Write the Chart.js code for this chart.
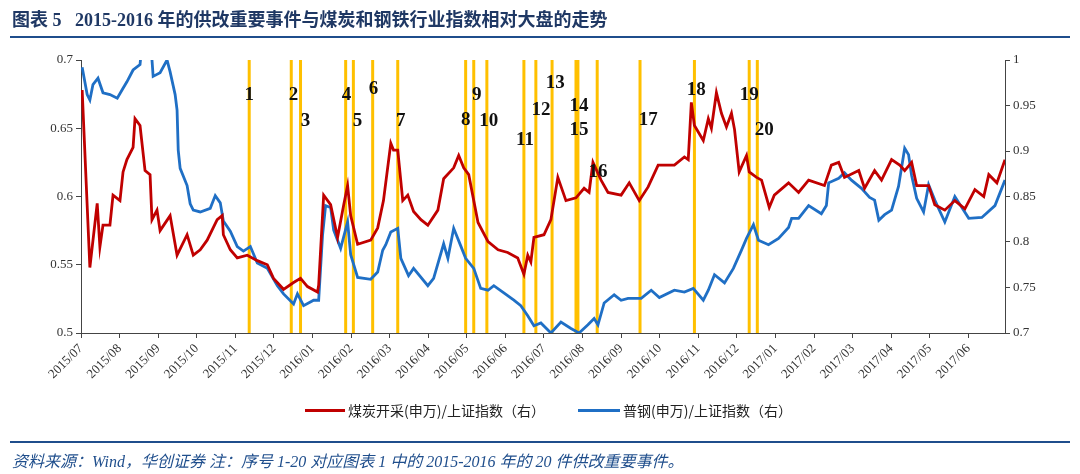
<!DOCTYPE html>
<html><head><meta charset="utf-8">
<script src="https://cdn.jsdelivr.net/npm/chart.js@4"></script>
<style>
body{margin:0;width:1080px;height:474px;background:#fff;position:relative;overflow:hidden;font-family:"Liberation Serif","Noto Sans CJK SC",serif}
#wrap{position:absolute;left:0;top:0;width:1080px;height:474px}
.t{position:absolute;white-space:nowrap}
</style></head><body>
<div id="wrap"><canvas id="c" width="1080" height="474"></canvas></div>
<div class="t" style="left:12px;top:5px;font-size:18px;font-weight:bold;color:#1f3864;font-family:'Liberation Serif','Noto Sans CJK SC'">图表 5&nbsp;&nbsp;&nbsp;2015-2016 年的供改重要事件与煤炭和钢铁行业指数相对大盘的走势</div>
<div style="position:absolute;left:10px;top:36px;width:1060px;height:2px;background:#1f4e8c"></div>
<div style="position:absolute;left:305px;top:409px;width:40px;height:3px;background:#c00000"></div>
<div class="t" style="left:348px;top:400px;font-size:14px;color:#222;font-family:'Noto Sans CJK SC'">煤炭开采(申万)/上证指数（右）</div>
<div style="position:absolute;left:578px;top:409px;width:42px;height:3px;background:#1f6fc5"></div>
<div class="t" style="left:623px;top:400px;font-size:14px;color:#222;font-family:'Noto Sans CJK SC'">普钢(申万)/上证指数（右）</div>
<div style="position:absolute;left:10px;top:441px;width:1060px;height:1.5px;background:#1f4e8c"></div>
<div class="t" style="left:12px;top:448px;font-size:16px;font-style:italic;color:#1f4e8c;font-family:'Liberation Serif','Noto Sans CJK SC'">资料来源：Wind，华创证券 注：序号 1-20 对应图表 1 中的 2015-2016 年的 20 件供改重要事件。</div>
<script>
const monthLabels=["2015/07","2015/08","2015/09","2015/10","2015/11","2015/12","2016/01","2016/02","2016/03","2016/04","2016/05","2016/06","2016/07","2016/08","2016/09","2016/10","2016/11","2016/12","2017/01","2017/02","2017/03","2017/04","2017/05","2017/06"];
// x values in months since 2015/07
const coalX=[0.03,0.23,0.42,0.49,0.57,0.75,0.83,1.01,1.09,1.19,1.35,1.40,1.53,1.66,1.79,1.84,1.97,2.05,2.31,2.49,2.75,2.91,3.09,3.27,3.53,3.66,3.69,3.87,4.05,4.31,4.57,4.83,4.99,5.25,5.51,5.69,5.87,6.13,6.16,6.29,6.47,6.65,6.81,6.91,6.99,7.17,7.51,7.69,7.84,8.03,8.10,8.21,8.34,8.47,8.62,8.81,8.99,9.25,9.40,9.66,9.79,9.92,10.05,10.29,10.55,10.81,11.06,11.32,11.48,11.58,11.66,11.74,12.00,12.18,12.36,12.57,12.83,13.04,13.17,13.27,13.48,13.66,14.00,14.21,14.47,14.70,14.96,15.38,15.64,15.74,15.82,15.90,16.13,16.26,16.34,16.47,16.60,16.73,16.86,16.94,17.06,17.25,17.32,17.51,17.64,17.84,17.97,18.34,18.60,18.86,19.27,19.45,19.64,19.79,20.16,20.31,20.57,20.75,21.01,21.22,21.35,21.53,21.66,21.97,22.13,22.39,22.65,22.91,23.17,23.40,23.53,23.74,23.95];
const coalY=[0.678,0.548,0.595,0.563,0.579,0.579,0.601,0.597,0.618,0.627,0.636,0.657,0.652,0.619,0.616,0.583,0.590,0.575,0.586,0.557,0.572,0.557,0.561,0.568,0.583,0.586,0.572,0.561,0.555,0.557,0.553,0.550,0.540,0.532,0.537,0.540,0.534,0.530,0.535,0.601,0.594,0.570,0.594,0.608,0.586,0.565,0.568,0.577,0.597,0.639,0.634,0.634,0.597,0.601,0.589,0.583,0.579,0.590,0.613,0.621,0.630,0.621,0.616,0.581,0.567,0.561,0.559,0.555,0.543,0.557,0.552,0.570,0.572,0.583,0.614,0.597,0.599,0.606,0.603,0.625,0.612,0.603,0.601,0.610,0.597,0.607,0.623,0.623,0.629,0.627,0.669,0.652,0.641,0.657,0.650,0.676,0.661,0.651,0.661,0.649,0.618,0.630,0.618,0.614,0.612,0.592,0.601,0.610,0.603,0.612,0.608,0.623,0.625,0.614,0.619,0.606,0.619,0.612,0.627,0.623,0.619,0.625,0.608,0.608,0.594,0.590,0.597,0.591,0.605,0.600,0.616,0.610,0.627];
const steelX=[0.03,0.16,0.23,0.31,0.44,0.57,0.75,0.94,1.09,1.19,1.35,1.53,1.61,1.79,1.87,2.05,2.23,2.31,2.44,2.49,2.52,2.57,2.75,2.83,2.91,3.09,3.35,3.48,3.61,3.69,3.87,4.05,4.21,4.39,4.57,4.83,5.09,5.25,5.51,5.61,5.77,6.03,6.16,6.26,6.34,6.47,6.55,6.73,6.91,6.99,7.17,7.51,7.69,7.82,7.90,8.03,8.21,8.29,8.49,8.62,8.99,9.14,9.40,9.51,9.66,9.84,9.97,10.18,10.36,10.55,10.70,10.96,11.22,11.40,11.58,11.74,11.92,12.18,12.44,12.70,12.91,13.14,13.30,13.40,13.56,13.82,14.00,14.18,14.52,14.78,14.99,15.38,15.64,15.87,16.13,16.26,16.42,16.68,16.91,17.12,17.25,17.43,17.56,17.82,18.08,18.34,18.42,18.60,18.86,19.19,19.32,19.38,19.64,19.79,19.97,20.23,20.44,20.57,20.68,20.83,21.01,21.19,21.35,21.45,21.53,21.66,21.84,21.97,22.13,22.39,22.65,23.01,23.35,23.69,23.95];
const steelY=[0.992,0.962,0.956,0.973,0.980,0.964,0.962,0.958,0.969,0.976,0.989,0.995,1.03,1.03,0.982,0.986,1.0,0.987,0.962,0.945,0.901,0.881,0.862,0.842,0.835,0.833,0.837,0.851,0.843,0.823,0.812,0.795,0.790,0.795,0.777,0.771,0.752,0.743,0.732,0.743,0.730,0.736,0.736,0.807,0.840,0.838,0.813,0.793,0.822,0.786,0.761,0.759,0.767,0.791,0.797,0.811,0.815,0.782,0.763,0.771,0.752,0.760,0.798,0.782,0.815,0.796,0.782,0.771,0.749,0.747,0.752,0.744,0.736,0.730,0.719,0.708,0.711,0.700,0.712,0.705,0.700,0.709,0.716,0.709,0.733,0.742,0.736,0.738,0.738,0.747,0.739,0.747,0.745,0.749,0.736,0.747,0.764,0.755,0.771,0.791,0.804,0.819,0.802,0.797,0.804,0.816,0.826,0.826,0.840,0.831,0.840,0.865,0.870,0.876,0.868,0.859,0.849,0.846,0.824,0.830,0.835,0.861,0.903,0.896,0.873,0.848,0.833,0.863,0.846,0.822,0.850,0.826,0.827,0.840,0.868];
const eventX=[4.36,5.45,5.69,6.86,7.06,7.56,8.21,9.97,10.18,10.52,11.48,11.79,12.21,12.83,12.88,13.38,14.49,15.90,17.32,17.53];
const eventNames=["1","2","3","4","5","6","7","8","9","10","11","12","13","14","15","16","17","18","19","20"];
// label placement (month, left-axis value)
const labelPos=[[4.36,0.674],[5.51,0.674],[5.82,0.655],[6.88,0.674],[7.17,0.655],[7.58,0.679],[8.29,0.655],[9.97,0.656],[10.26,0.674],[10.57,0.655],[11.51,0.641],[11.92,0.663],[12.29,0.683],[12.91,0.666],[12.91,0.649],[13.40,0.618],[14.70,0.656],[15.95,0.678],[17.32,0.674],[17.71,0.649]];

const events={id:'events',
 beforeDatasetsDraw(ch){const {ctx,chartArea:a,scales:{x}}=ch;ctx.save();ctx.strokeStyle='#FFC000';ctx.lineWidth=3;
  eventX.forEach(v=>{const px=x.getPixelForValue(v);ctx.beginPath();ctx.moveTo(px,a.top);ctx.lineTo(px,a.bottom);ctx.stroke();});ctx.restore();},
 afterDatasetsDraw(ch){const {ctx,scales:{x,y}}=ch;ctx.save();ctx.fillStyle='#111';ctx.font='bold 19px "Liberation Serif"';ctx.textAlign='center';ctx.textBaseline='middle';
  eventNames.forEach((n,i)=>ctx.fillText(n,x.getPixelForValue(labelPos[i][0]),y.getPixelForValue(labelPos[i][1])));ctx.restore();}};
const tf={family:'"Liberation Serif"',size:13};
new Chart(document.getElementById('c'),{type:'line',
 data:{datasets:[
  {data:coalX.map((v,i)=>({x:v,y:coalY[i]})),borderColor:'#C00000',borderWidth:2.8,pointRadius:0,yAxisID:'y',tension:0},
  {data:steelX.map((v,i)=>({x:v,y:steelY[i]})),borderColor:'#1F6FC5',borderWidth:2.8,pointRadius:0,yAxisID:'y1',tension:0}]},
 options:{responsive:false,animation:false,events:[],layout:{padding:{top:60,left:0,right:0,bottom:0}},
  plugins:{legend:{display:false},tooltip:{enabled:false}},
  scales:{
   x:{type:'linear',min:0,max:23.95,afterFit(s){s.height=141;},
      grid:{drawOnChartArea:false,tickLength:5,color:'#444'},border:{color:'#444'},
      ticks:{stepSize:1,includeBounds:false,autoSkip:false,minRotation:45,maxRotation:45,font:tf,color:'#333',callback:v=>monthLabels[v]||''}},
   y:{position:'left',min:0.5,max:0.7,afterFit(s){s.width=81;},grid:{drawOnChartArea:false,tickLength:5,color:'#444'},border:{color:'#444'},
      ticks:{stepSize:0.05,font:tf,color:'#333',callback:v=>String(+v.toFixed(2))}},
   y1:{position:'right',min:0.7,max:1,afterFit(s){s.width=75;},grid:{drawOnChartArea:false,tickLength:5,color:'#444'},border:{color:'#444'},
      ticks:{stepSize:0.05,font:tf,color:'#333',callback:v=>String(+v.toFixed(2))}}}},
 plugins:[events]});
</script></body></html>
